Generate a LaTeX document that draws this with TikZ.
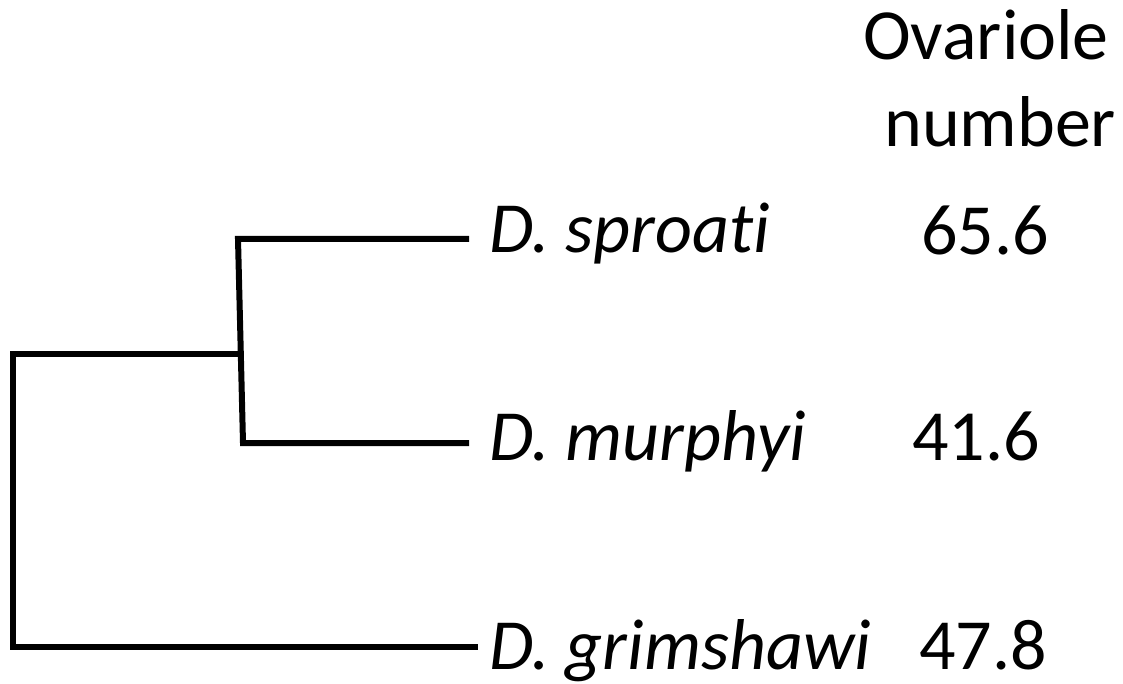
\documentclass[tikz,border=0pt]{standalone}
\usepackage{fontspec}
\setmainfont[Ligatures=NoCommon]{Carlito}
\begin{document}
\begin{tikzpicture}[x=1pt,y=-1pt,
  branch/.style={line width=6pt,line join=miter,line cap=butt},
  taxon/.style={anchor=base west,inner sep=0pt,font=\fontsize{72}{86}\selectfont\itshape},
  value/.style={anchor=base west,inner sep=0pt,font=\fontsize{72}{86}\selectfont}]
  \useasboundingbox (0,0) rectangle (1123,684);

  % column heading
  \node[value] (hd1) at (863,60) {Ovariole};
  \node[value] (hd2) at (884,147) {number};

  % species labels
  \node[taxon] (spr) at (489,253) {D. sproati};
  \node[taxon] (mur) at (489,460) {D. murphyi};
  \node[taxon] (gri) at (489,669) {D. grimshawi};

  % ovariole counts
  \node[value] (vspr) at (921,255) {65.6};
  \node[value] (vmur) at (912,460) {41.6};
  \node[value] (vgri) at (919,669) {47.8};

  % tree junctions and tips
  \coordinate (root) at (13,354);
  \coordinate (inner) at (240,354);
  \coordinate (tspr) at (469,239);
  \coordinate (tmur) at (469,443);
  \coordinate (tgri) at (478,647);

  % inner clade
  \draw[branch] (tspr) -- (238,239) -- (243,443) -- (tmur);
  % root and outgroup
  \draw[branch] (inner) -- (root) -- (13,647) -- (tgri);
\end{tikzpicture}
\end{document}
